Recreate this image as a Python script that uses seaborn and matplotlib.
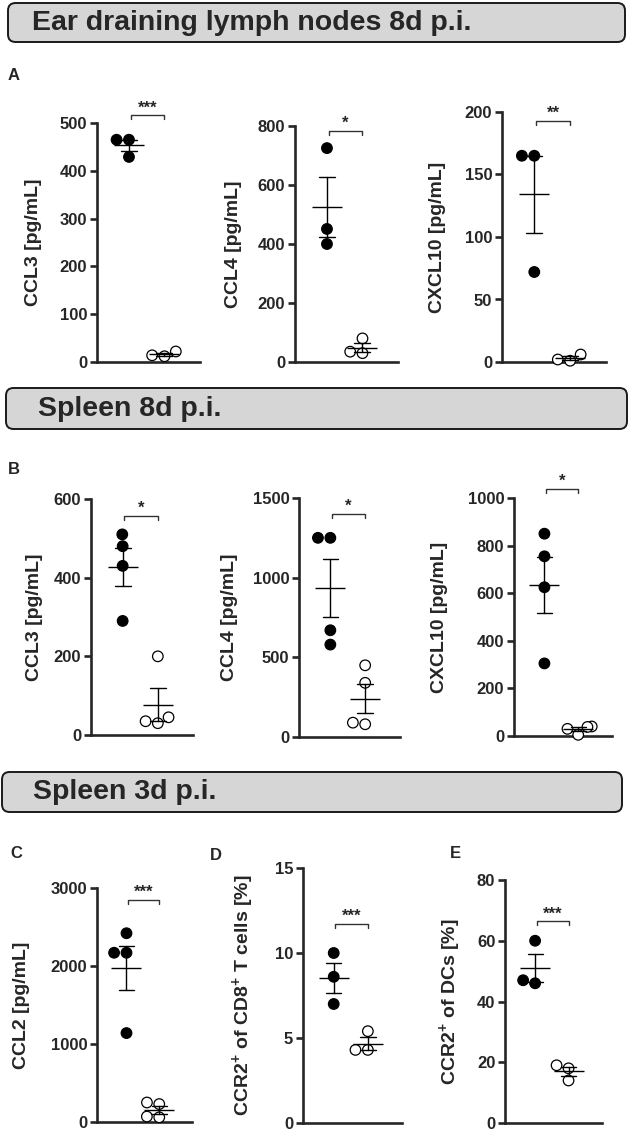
import numpy as np
import pandas as pd
import matplotlib.pyplot as plt
import seaborn as sns
from matplotlib.patches import FancyBboxPatch

sns.set_style("ticks")
plt.rcParams['font.family'] = ['Liberation Sans', 'DejaVu Sans']
plt.rcParams['font.weight'] = 'bold'
plt.rcParams['mathtext.fontset'] = 'custom'
plt.rcParams['mathtext.rm'] = 'Liberation Sans:bold'
plt.rcParams['mathtext.bf'] = 'Liberation Sans:bold'

W, H = 630, 1133

groups = ['infected', 'control']

# A - ear draining lymph nodes 8d p.i.
ccl3_a_inf = [465, 465, 429]
ccl3_a_ctrl = [12, 22, 14]
ccl4_a_inf = [725, 451, 400]
ccl4_a_ctrl = [80, 30, 35]
cxcl10_a_inf = [165, 165, 72]
cxcl10_a_ctrl = [6, 1, 2]

# B - spleen 8d p.i.
ccl3_b_inf = [480, 510, 430, 290]
ccl3_b_ctrl = [200, 30, 45, 35]
ccl4_b_inf = [1250, 1250, 670, 580]
ccl4_b_ctrl = [450, 340, 80, 90]
cxcl10_b_inf = [850, 755, 625, 305]
cxcl10_b_ctrl = [5, 30, 40, 38]

# C-E - spleen 3d p.i.
ccl2_c_inf = [2420, 2170, 2170, 1140]
ccl2_c_ctrl = [250, 230, 70, 60]
cd8_d_inf = [10.0, 8.6, 7.0]
cd8_d_ctrl = [5.4, 4.3, 4.3]
dc_e_inf = [60, 46, 47]
dc_e_ctrl = [14, 19, 18]

ylabels = ['CCL3 [pg/mL]', 'CCL4 [pg/mL]', 'CXCL10 [pg/mL]',
           'CCL3 [pg/mL]', 'CCL4 [pg/mL]', 'CXCL10 [pg/mL]',
           'CCL2 [pg/mL]',
           r'CCR2$^{\mathbf{+}}$ of CD8$^{\mathbf{+}}$ T cells [%]',
           r'CCR2$^{\mathbf{+}}$ of DCs [%]']
yticks = [[0, 100, 200, 300, 400, 500], [0, 200, 400, 600, 800], [0, 50, 100, 150, 200],
          [0, 200, 400, 600], [0, 500, 1000, 1500], [0, 200, 400, 600, 800, 1000],
          [0, 1000, 2000, 3000], [0, 5, 10, 15], [0, 20, 40, 60, 80]]
stars = ['***', '*', '**', '*', '*', '*', '***', '***', '***']
bracket_y = [516, 783, 193, 557, 1400, 1038, 2846, 11.7, 66.4]

data = [(ccl3_a_inf, ccl3_a_ctrl), (ccl4_a_inf, ccl4_a_ctrl), (cxcl10_a_inf, cxcl10_a_ctrl),
        (ccl3_b_inf, ccl3_b_ctrl), (ccl4_b_inf, ccl4_b_ctrl), (cxcl10_b_inf, cxcl10_b_ctrl),
        (ccl2_c_inf, ccl2_c_ctrl), (cd8_d_inf, cd8_d_ctrl), (dc_e_inf, dc_e_ctrl)]

# layout in pixels: left, top, right, bottom of each axes, and y label centre x
boxes = [(97, 123, 200, 362), (295, 126, 398, 362), (502, 112, 606, 362),
         (91, 499, 193, 735), (299, 498, 400, 737), (514, 498, 612, 736),
         (97, 888, 192, 1122), (303, 868, 402, 1123), (505, 880, 602, 1123)]
label_x = [34, 233, 438, 35, 230, 439, 22, 244, 451]

fig = plt.figure(figsize=(W / 100, H / 100), dpi=100)

# section headers
headers = [('Ear draining lymph nodes 8d p.i.', (8, 3, 625, 42), 32),
           ('Spleen 8d p.i.', (6, 388, 627, 429), 38),
           ('Spleen 3d p.i.', (2, 772, 622, 812), 33)]
for text, (x0, y0, x1, y1), tx in headers:
    patch = FancyBboxPatch((x0 / W, 1 - y1 / H), (x1 - x0) / W, (y1 - y0) / H,
                           boxstyle='round,pad=0,rounding_size=0.012',
                           mutation_aspect=W / H, transform=fig.transFigure,
                           facecolor='#d6d6d6', edgecolor='#1a1a1a', linewidth=1.4)
    fig.add_artist(patch)
    fig.text(tx / W, 1 - (y0 + y1) / 2 / H, text, fontsize=20.5, fontweight='bold',
             ha='left', va='center')

# panel letters
for letter, (x, y) in zip('ABCDE', [(8, 75), (8, 469), (10, 854), (210, 855), (450, 854)]):
    fig.text(x / W, 1 - y / H, letter, fontsize=12, fontweight='bold', ha='left', va='center')

for i, (inf, ctrl) in enumerate(data):
    l, t, r, b = boxes[i]
    ax = fig.add_axes([l / W, 1 - b / H, (r - l) / W, (b - t) / H])
    df = pd.DataFrame({'group': ['infected'] * len(inf) + ['control'] * len(ctrl),
                       'value': list(inf) + list(ctrl)})
    sns.swarmplot(data=df, x='group', y='value', hue='group', order=groups,
                  palette={'infected': 'black', 'control': 'white'},
                  size=7.6, edgecolor='black', linewidth=0.9, legend=False, ax=ax)
    for coll in ax.collections:
        coll.set_clip_on(False)
        coll.set_zorder(3)
    sns.pointplot(data=df, x='group', y='value', order=groups, errorbar='se',
                  capsize=0.45, color='black', markers='_', linestyles='none',
                  markersize=22, markeredgewidth=1, err_kws={'linewidth': 1}, ax=ax)
    for line in ax.lines:
        line.set_clip_on(False)
        line.set_zorder(4)

    top = yticks[i][-1]
    ax.set_ylim(0, top)
    ax.set_xlim(-0.9, 2.0)
    ax.set_yticks(yticks[i])
    ax.set_xticks([])
    ax.set_xlabel('')
    ax.set_ylabel(ylabels[i], fontsize=14, fontweight='bold', va='center')
    ax.yaxis.set_label_coords((label_x[i] - l) / (r - l), 0.5)
    ax.tick_params(axis='y', length=5, width=1.9, labelsize=12, pad=2)
    for lab in ax.get_yticklabels():
        lab.set_fontweight('bold')
    sns.despine(ax=ax)
    for side in ['left', 'bottom']:
        ax.spines[side].set_linewidth(1.9)

    # significance bracket
    px_per_unit = (b - t) / top
    by = bracket_y[i]
    dy = 4 / px_per_unit
    ax.plot([0.05, 0.05, 1.0, 1.0], [by - dy, by, by, by - dy], color='#333333',
            linewidth=1, clip_on=False)
    ax.annotate(stars[i], xy=(0.52, by), xytext=(0, 0), textcoords='offset points',
                ha='center', va='bottom', fontsize=12, fontweight='bold',
                annotation_clip=False)

fig.savefig('out.png', dpi=100)
